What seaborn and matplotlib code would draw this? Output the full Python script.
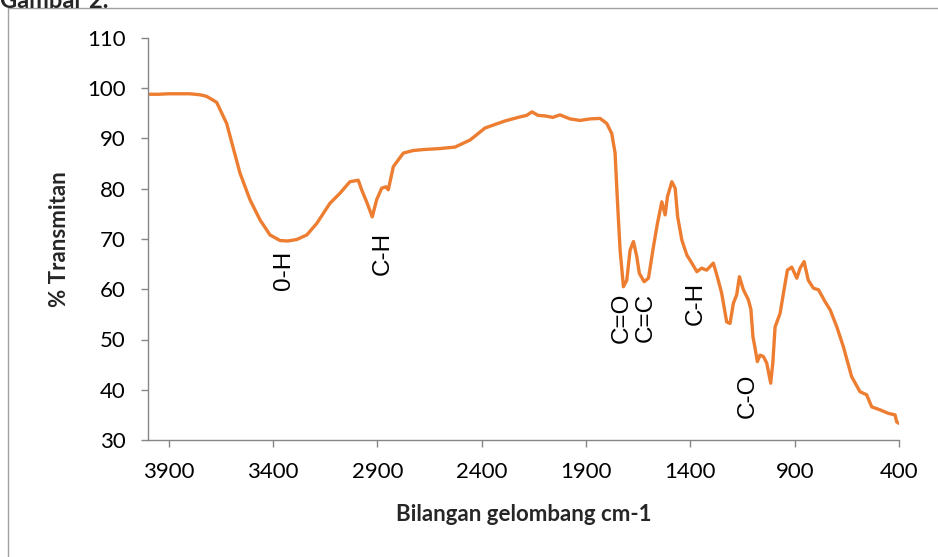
import matplotlib
matplotlib.use('Agg')
import matplotlib.pyplot as plt
import seaborn as sns
from matplotlib.patches import Rectangle

# bilangan gelombang (cm-1) dan % transmitan
wavenumber = [4000, 3950, 3900, 3850, 3800, 3750, 3720, 3703, 3671, 3623, 3559, 3511,
              3463, 3415, 3367, 3330, 3287, 3239, 3191, 3128, 3080, 3032, 2992, 2976,
              2952, 2925, 2904, 2880, 2859, 2848, 2824, 2776, 2730, 2680, 2600, 2528,
              2456, 2384, 2288, 2217, 2185, 2159, 2130, 2097, 2060, 2025, 1977, 1929,
              1881, 1833, 1801, 1777, 1761, 1750, 1737, 1721, 1705, 1689, 1673, 1657,
              1645, 1622, 1601, 1577, 1558, 1537, 1521, 1510, 1489, 1473, 1461, 1441,
              1417, 1393, 1369, 1346, 1322, 1290, 1271, 1250, 1226, 1210, 1194, 1178,
              1165, 1146, 1122, 1110, 1100, 1090, 1079, 1066, 1050, 1034, 1015, 1005,
              994, 970, 954, 935, 914, 890, 874, 855, 835, 810, 786, 754, 730, 698,
              667, 627, 587, 555, 531, 491, 451, 419, 411, 400]
transmitan = [98.8, 98.8, 98.9, 98.9, 98.9, 98.7, 98.4, 98.0, 97.2, 93.0, 83.1, 77.8,
              73.8, 70.8, 69.7, 69.6, 69.9, 70.8, 73.1, 77.1, 79.1, 81.4, 81.7, 79.8,
              77.4, 74.4, 77.8, 80.1, 80.4, 79.8, 84.4, 87.1, 87.6, 87.8, 88.0, 88.3,
              89.7, 92.1, 93.5, 94.3, 94.6, 95.3, 94.6, 94.5, 94.2, 94.7, 93.9, 93.6,
              93.9, 94.0, 93.0, 91.0, 87.1, 77.8, 67.8, 60.5, 61.8, 67.8, 69.5, 66.5,
              63.2, 61.5, 62.2, 68.5, 73.1, 77.4, 74.8, 78.4, 81.4, 80.1, 74.4, 69.8,
              66.8, 65.2, 63.5, 64.2, 63.8, 65.2, 62.5, 59.2, 53.5, 53.2, 57.2, 58.9,
              62.5, 59.9, 57.9, 56.0, 50.5, 48.3, 45.6, 46.9, 46.6, 45.3, 41.3, 45.3,
              52.5, 55.2, 59.2, 63.8, 64.4, 62.2, 64.2, 65.5, 61.8, 60.2, 59.9, 57.5,
              55.9, 52.5, 48.6, 42.6, 39.6, 39.0, 36.6, 36.0, 35.3, 35.0, 33.6, 33.3]

# label gugus fungsi: teks, posisi x, posisi y
gugus_label = ["0-H", "C-H", "C=O", "C=C", "C-H", "C-O"]
gugus_x = [3348, 2877, 1728, 1613, 1373, 1124]
gugus_y = [63.8, 67.2, 54.3, 54.3, 57.1, 38.8]

x_ticks = [3900, 3400, 2900, 2400, 1900, 1400, 900, 400]
y_ticks = [30, 40, 50, 60, 70, 80, 90, 100, 110]

sns.set_theme(style="white")
plt.rcParams['font.family'] = ['Lato', 'DejaVu Sans']

fig = plt.figure(figsize=(9.38, 5.57), dpi=100)
ax = fig.add_axes([148 / 938, 117 / 557, 751 / 938, 402 / 557])

sns.lineplot(x=wavenumber, y=transmitan, color='#ED7D31', linewidth=2.4, ax=ax)

for teks, gx, gy in zip(gugus_label, gugus_x, gugus_y):
    ax.text(gx, gy, teks, rotation=90, ha='center', va='center', fontsize=17.5,
            family=['Liberation Sans', 'DejaVu Sans'], color='black')

ax.set_xlim(4000, 400)
ax.set_ylim(30, 110)
ax.set_xticks(x_ticks)
ax.set_yticks(y_ticks)
ax.tick_params(axis='both', labelsize=16, colors='#868686', labelcolor='black',
               direction='out', length=5, width=1, bottom=True, left=True)
ax.tick_params(axis='x', pad=11)
ax.tick_params(axis='y', pad=11)

for side in ['top', 'right']:
    ax.spines[side].set_visible(False)
for side in ['left', 'bottom']:
    ax.spines[side].set_color('#868686')
    ax.spines[side].set_linewidth(1)

ax.set_xlabel("Bilangan gelombang cm-1", fontsize=16, fontweight='bold', labelpad=16)
ax.set_ylabel("% Transmitan", fontsize=16, fontweight='bold', labelpad=12)

# bingkai area grafik dan judul yang terpotong
fig.patches.append(Rectangle((8 / 938, -0.1), 1.1, 1.1 - 8 / 557, transform=fig.transFigure,
                             fill=False, edgecolor='#A0A0A0', linewidth=1))
fig.text(0.0, 1 - 8 / 557, "Gambar 2.", fontsize=17, fontweight='bold', va='baseline')

fig.savefig("out.png", dpi=100)
plt.close(fig)
